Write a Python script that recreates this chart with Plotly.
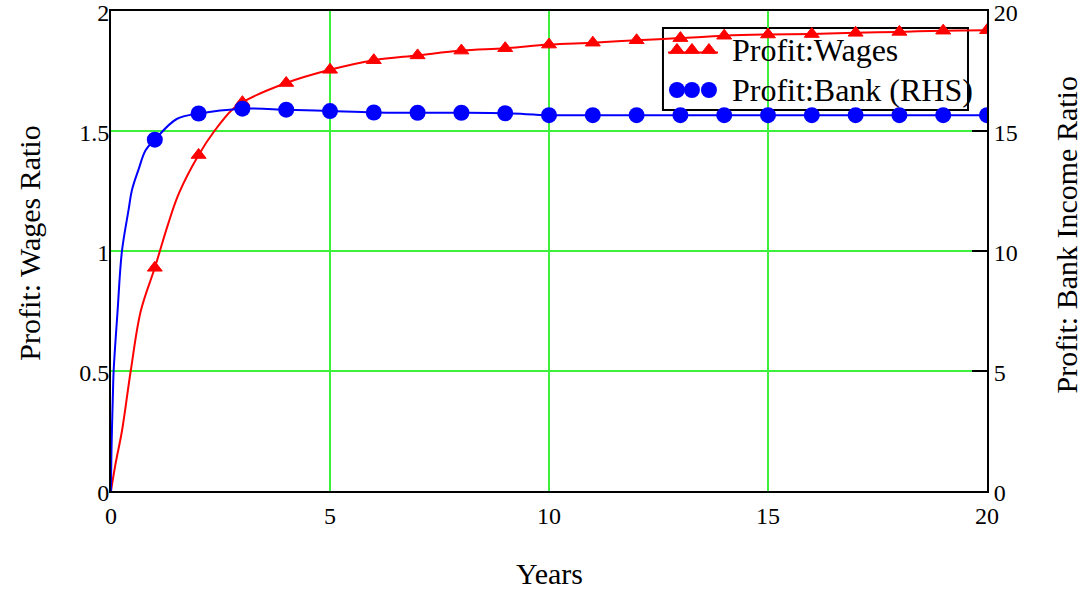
import plotly.graph_objects as go

# ---- data -------------------------------------------------------------
years = list(range(1, 21))

# Profit : wages ratio (left axis), yearly values
wages_ratio = [0.93, 1.40, 1.62, 1.70, 1.755, 1.795, 1.815, 1.835, 1.845, 1.860,
               1.868, 1.878, 1.887, 1.897, 1.902, 1.904, 1.909, 1.913, 1.918, 1.920]

# Profit : bank income ratio (right axis), yearly values
bank_ratio = [14.64, 15.73, 15.93, 15.89, 15.83, 15.77, 15.76, 15.76, 15.74, 15.66,
              15.66, 15.66, 15.66, 15.66, 15.66, 15.66, 15.66, 15.66, 15.66, 15.66]

# additional readings of the continuous paths between the yearly points
wages_path_t = [0.0, 0.1, 0.25, 0.45, 0.68, 1.3, 1.55, 2.36, 2.77]
wages_path_v = [0.0, 0.11, 0.25, 0.50, 0.75, 1.11, 1.24, 1.50, 1.59]

bank_path_t = [0.0, 0.01, 0.046, 0.06, 0.15, 0.25, 0.40, 0.48, 0.63, 0.79, 1.5]
bank_path_v = [0.0, 1.6, 4.2, 5.0, 7.5, 10.0, 11.7, 12.55, 13.4, 14.2, 15.5]

x_ticks = [0, 5, 10, 15, 20]
left_ticks = [0, 0.5, 1, 1.5, 2]
right_ticks = [0, 5, 10, 15, 20]


def merged(t_extra, v_extra, t_year, v_year):
    pts = sorted(zip(list(t_extra) + list(t_year), list(v_extra) + list(v_year)))
    return [p[0] for p in pts], [p[1] for p in pts]


RED = "#ff0000"
BLUE = "#0000ff"
GRID = "rgb(60,240,60)"
FONT = "Liberation Serif"

wt, wv = merged(wages_path_t, wages_path_v, years, wages_ratio)
bt, bv = merged(bank_path_t, bank_path_v, years, bank_ratio)

fig = go.Figure()

fig.add_trace(go.Scatter(x=wt, y=wv, mode="lines", line=dict(color=RED, width=2, shape="spline", smoothing=1.0),
                         showlegend=False, hoverinfo="skip"))
fig.add_trace(go.Scatter(x=years, y=wages_ratio, mode="markers", name="Profit:Wages",
                         marker=dict(symbol="triangle-up", size=13, color=RED, line=dict(color=RED, width=1)),
                         showlegend=False))
fig.add_trace(go.Scatter(x=bt, y=bv, mode="lines", yaxis="y2", line=dict(color=BLUE, width=2, shape="spline", smoothing=1.0),
                         showlegend=False, hoverinfo="skip"))
fig.add_trace(go.Scatter(x=years, y=bank_ratio, mode="markers", yaxis="y2", name="Profit:Bank (RHS)",
                         marker=dict(symbol="circle", size=16, color=BLUE),
                         showlegend=False))

# ---- hand-drawn legend (three symbols per entry) -----------------------
leg_x = [0.6461, 0.6632, 0.6826]
fig.add_trace(go.Scatter(x=[0.6358, 0.6929], y=[0.9135, 0.9135], mode="lines", xaxis="x3", yaxis="y3",
                         line=dict(color=RED, width=2), showlegend=False, hoverinfo="skip"))
fig.add_trace(go.Scatter(x=leg_x, y=[0.91875] * 3, mode="markers", xaxis="x3", yaxis="y3",
                         marker=dict(symbol="triangle-up", size=13, color=RED, line=dict(color=RED, width=1)),
                         showlegend=False, hoverinfo="skip"))
fig.add_trace(go.Scatter(x=leg_x, y=[0.8354] * 3, mode="markers", xaxis="x3", yaxis="y3",
                         marker=dict(symbol="circle", size=16, color=BLUE),
                         showlegend=False, hoverinfo="skip"))

fig.add_shape(type="rect", xref="paper", yref="paper", x0=0.6301, x1=0.9783, y0=0.79375, y1=0.9646,
              line=dict(color="black", width=2), fillcolor="white", layer="between")

legend_font = dict(family=FONT, size=32, color="black")
fig.add_annotation(x=0.7066, y=0.91875, xref="paper", yref="paper", text="Profit:Wages",
                   showarrow=False, xanchor="left", yanchor="middle", font=legend_font)
fig.add_annotation(x=0.7066, y=0.8354, xref="paper", yref="paper", text="Profit:Bank (RHS)",
                   showarrow=False, xanchor="left", yanchor="middle", font=legend_font)

# ---- axis titles -------------------------------------------------------
title_font = dict(family=FONT, size=30, color="black")
fig.add_annotation(x=0.501, y=-0.171, xref="paper", yref="paper", text="Years",
                   showarrow=False, xanchor="center", yanchor="middle", font=title_font)
fig.add_annotation(x=-0.0927, y=0.517, xref="paper", yref="paper", text="Profit: Wages Ratio",
                   showarrow=False, textangle=-90, xanchor="center", yanchor="middle", font=title_font)
fig.add_annotation(x=1.0906, y=0.533, xref="paper", yref="paper", text="Profit: Bank Income Ratio",
                   showarrow=False, textangle=-90, xanchor="center", yanchor="middle", font=title_font)

tick_font = dict(family=FONT, size=24, color="black")
fig.update_layout(
    template="none",
    width=1086, height=592,
    margin=dict(l=111, r=99, t=11, b=101, autoexpand=False),
    paper_bgcolor="white", plot_bgcolor="white",
    showlegend=False,
    xaxis=dict(range=[0, 20], tickvals=x_ticks, showgrid=True, gridcolor=GRID, gridwidth=2,
               zeroline=False, showline=True, linecolor="black", linewidth=2, mirror=True,
               ticks="", tickfont=tick_font, automargin=False, ticklabelstandoff=2,
               ticklabeloverflow="allow"),
    yaxis=dict(range=[0, 2], tickvals=left_ticks, showgrid=True, gridcolor=GRID, gridwidth=2,
               zeroline=False, showline=True, linecolor="black", linewidth=2, mirror=True,
               ticks="", tickfont=tick_font, automargin=False, ticklabelstandoff=-5,
               ticklabelshift=2, ticklabeloverflow="allow"),
    yaxis2=dict(range=[0, 20], tickvals=right_ticks, overlaying="y", side="right", showgrid=False,
                zeroline=False, showline=True, linecolor="black", linewidth=2,
                ticks="inside", ticklen=15, tickwidth=2, tickcolor="black", tickfont=tick_font,
                automargin=False, ticklabelshift=2, ticklabeloverflow="allow"),
    xaxis3=dict(range=[0, 1], overlaying="x", visible=False, showgrid=False, zeroline=False),
    yaxis3=dict(range=[0, 1], overlaying="y", visible=False, showgrid=False, zeroline=False),
)

fig.write_html("out.html")
